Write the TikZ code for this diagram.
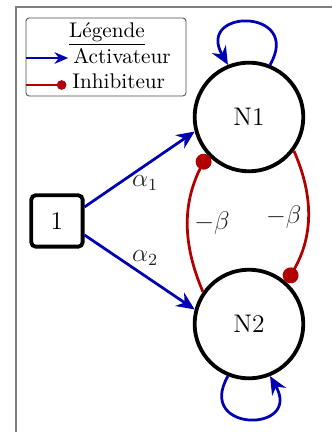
\documentclass[tikz,border=0pt]{standalone}
\usetikzlibrary{arrows.meta}
\begin{document}
\begin{tikzpicture}
  \useasboundingbox (0,0) rectangle (5.5,7.157);
  % cadre
  \draw[gray, line width=0.7pt] (0.265,0) -- (0.265,7.041) -- (5.5,7.041);
  \tikzset{
    gene/.style={circle, draw, line width=1.8pt, minimum size=1.8cm, font=\large},
    source/.style={rectangle, draw, rounded corners=2pt, line width=1.8pt,
                   minimum size=0.85cm, font=\large},
    act/.style={-{Stealth[length=8.5pt,width=7.5pt]}, line width=1.3pt, blue!70!black},
    inh/.style={-{Circle[length=7.5pt]}, line width=1.3pt, red!70!black},
    lab/.style={text=black!85, font=\large},
    legtxt/.style={anchor=base west, inner sep=0pt}
  }
  % noeuds
  \node[gene] (n1) at (4.125,5.219) {N1};
  \node[gene] (n2) at (4.125,1.789) {N2};
  \node[source] (one) at (0.944,3.496) {1};
  % activations
  \draw[act] (one.27) -- node[lab, below=1pt, pos=0.55] {$\alpha_1$} (n1.195);
  \draw[act] (one.-27) -- node[lab, above=1pt, pos=0.55] {$\alpha_2$} (n2.165);
  \draw[act] (n1.68) to[out=60, in=120, looseness=4] (n1.112);
  \draw[act] (n2.248) to[out=240, in=300, looseness=4] (n2.292);
  % inhibitions
  \draw[inh] (n2.145) to[bend left=25] node[lab, midway, right=-1pt] {$-\beta$} (n1.222);
  \draw[inh] (n1.323) to[bend left=27] node[lab, midway, left=-1pt] {$-\beta$} (n2.48);
  % legende
  \node[draw=black!70, rounded corners=1.5pt, minimum width=2.65cm,
        minimum height=1.292cm] (leg) at (1.756,6.213) {};
  \node[anchor=base] (legtitre) at (1.773,6.544) {\underline{Légende}};
  \coordinate (actdeb) at (0.431,6.196);
  \coordinate (actfin) at (1.13,6.196);
  \draw[act, line width=0.9pt, -{Stealth[length=6.5pt,width=5.5pt]}] (actdeb) -- (actfin);
  \node[legtxt] (acttxt) at (1.209,6.113) {Activateur};
  \coordinate (inhdeb) at (0.431,5.749);
  \coordinate (inhfin) at (1.1,5.749);
  \draw[inh, line width=0.9pt, -{Circle[length=4.5pt]}] (inhdeb) -- (inhfin);
  \node[legtxt] (inhtxt) at (1.193,5.699) {Inhibiteur};
\end{tikzpicture}
\end{document}
